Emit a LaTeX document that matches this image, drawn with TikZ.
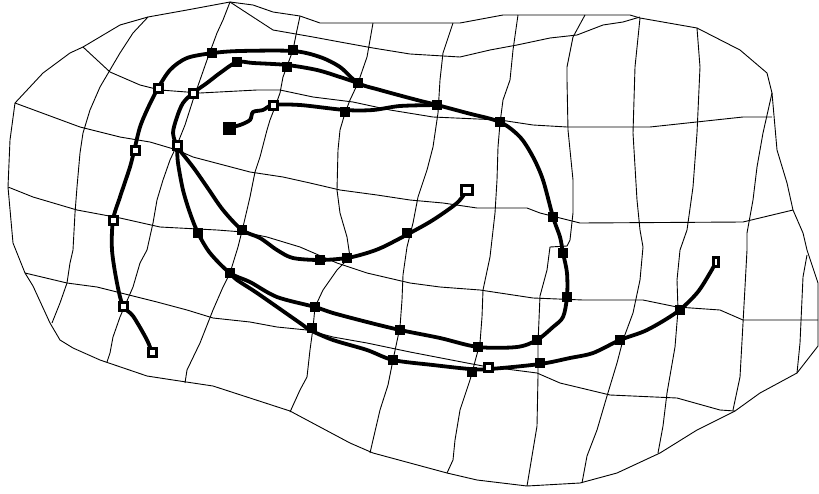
\documentclass[tikz,border=0pt]{standalone}
\usepackage{tikz}

\begin{document}
\begin{tikzpicture}[x=1pt,y=-1pt,
    gridline/.style={line width=0.9pt, line join=round},
    track/.style={line width=3.8pt, line join=round, line cap=round},
    fmark/.style={fill=black, inner sep=0pt, minimum size=10pt},
    omark/.style={draw=black, fill=white, line width=3pt, inner sep=0pt, minimum size=8pt}]
    \useasboundingbox (0,0) rectangle (819,493);
    % outline
    \draw[gridline] plot coordinates {(230,2) (253,5) (273,12) (300,16) (320,23) (373,23) (410,23) (460,23)
      (503,15) (585,15) (630,15) (640,18) (697,28) (740,50) (767,73) (772,93) (777,150) (787,183) (793,210)
      (803,233) (807,250) (818,283) (818,346) (797,373) (760,393) (735,411) (697,430) (660,453) (617,473)
      (580,483) (527,486) (477,480) (447,473) (410,463) (373,453) (350,443) (290,411) (213,386) (173,380)
      (147,376) (100,360) (73,348) (60,340) (50,323) (33,286) (25,273) (13,243) (8,187) (10,140) (15,103)
      (43,73) (70,53) (83,47) (120,25) (148,17) (187,10)} -- cycle;
    % grid, across
    \draw[gridline] plot coordinates {(230,2) (253,17) (273,30) (313,37) (340,42) (373,48) (410,54) (460,57)
      (490,50) (517,45) (550,38) (577,35) (603,25) (623,22) (640,17)};
    \draw[gridline] plot coordinates {(83,47) (110,72) (140,85) (160,90) (200,93) (257,90) (280,90) (313,97)
      (353,102) (390,110) (433,117) (500,120) (533,125) (567,127) (650,127) (743,117) (772,117)};
    \draw[gridline] plot coordinates {(15,103) (80,127) (120,137) (150,142) (177,150) (193,157) (250,172)
      (283,177) (310,183) (340,190) (377,195) (410,200) (443,203) (477,208) (527,208) (540,213) (580,223)
      (743,222) (793,210)};
    \draw[gridline] plot coordinates {(8,187) (33,197) (77,210) (120,218) (160,227) (217,230) (243,232)
      (267,237) (300,247) (337,263) (367,273) (410,283) (440,287) (480,290) (533,298) (583,300) (643,300)
      (677,307) (720,310) (743,320) (818,320)};
    \draw[gridline] plot coordinates {(25,273) (67,283) (97,287) (117,292) (157,302) (187,310) (213,318)
      (250,322) (277,327) (307,330) (333,337) (367,343) (410,352) (467,363) (483,366) (537,373) (560,383)
      (610,395) (677,398) (720,410) (735,411)};
    % grid, down
    \draw[gridline] plot coordinates {(148,17) (133,33) (120,53) (110,70) (100,87) (90,110) (83,133) (80,153)
      (77,187) (75,213) (73,250) (70,263) (67,283) (60,303) (52,323)};
    \draw[gridline] plot coordinates {(230,2) (223,20) (217,33) (207,60) (200,80) (193,100) (185,125)
      (177,145) (170,160) (163,180) (157,200) (153,223) (147,250) (140,263) (133,287) (120,317) (113,337)
      (110,353) (107,362)};
    \draw[gridline] plot coordinates {(300,16) (297,30) (293,50) (283,77) (280,93) (275,107) (270,120)
      (267,130) (260,157) (255,172) (250,197) (243,227) (238,247) (230,273) (223,287) (213,310) (200,343)
      (187,370) (185,383)};
    \draw[gridline] plot coordinates {(373,23) (367,57) (358,83) (350,100) (345,113) (340,130) (338,150)
      (337,190) (340,213) (347,237) (350,257) (337,270) (323,290) (315,307) (313,328) (310,350) (307,377)
      (300,390) (290,412)};
    \draw[gridline] plot coordinates {(453,23) (443,53) (440,80) (438,113) (433,147) (427,170) (418,197)
      (413,223) (407,247) (403,275) (402,300) (400,327) (393,360) (388,385) (380,410) (373,440) (370,453)};
    \draw[gridline] plot coordinates {(518,15) (513,50) (510,80) (503,100) (500,123) (498,147) (497,180)
      (495,213) (490,257) (483,290) (482,317) (480,343) (470,380) (460,410) (455,440) (453,460) (447,473)};
    \draw[gridline] plot coordinates {(585,15) (573,37) (567,67) (567,80) (568,130) (573,180) (573,213)
      (570,240) (567,246) (550,247) (547,270) (540,296) (538,343) (538,376) (537,426) (527,486)};
    \draw[gridline] plot coordinates {(640,18) (635,67) (633,133) (637,200) (640,230) (643,247) (640,280)
      (633,313) (623,340) (617,363) (607,396) (597,430) (587,456) (582,483)};
    \draw[gridline] plot coordinates {(697,28) (700,67) (697,133) (693,187) (687,230) (680,250) (677,280)
      (678,310) (675,347) (667,393) (663,426) (658,453)};
    \draw[gridline] plot coordinates {(772,93) (763,133) (757,167) (753,200) (747,233) (747,250) (745,287)
      (740,377) (733,410)};
    \draw[gridline] plot coordinates {(807,255) (803,277) (800,343) (797,373)};
    % tracks
    \draw[track] plot[smooth, tension=0.5] coordinates {(152,353) (147,340) (133,316) (123,306) (117,283)
      (112,250) (113,220) (120,197) (130,167) (135,147) (140,127) (147,110) (157,90) (170,70) (187,58)
      (213,53) (240,51) (293,51) (320,57) (340,67) (358,83) (380,90) (417,100) (437,105) (467,113)
      (500,122) (520,137) (533,157) (543,180) (553,217) (560,237) (563,253) (567,273) (567,297) (563,317)
      (553,327) (537,340) (517,347) (478,347) (440,338) (400,330) (367,322) (333,313) (315,307) (277,297)
      (250,282) (230,273) (210,253) (198,233) (190,213) (183,190) (178,163) (177,147)};
    \draw[track] plot[smooth, tension=0.5] coordinates {(177,147) (173,133) (177,117) (183,103) (193,93)
      (207,83) (220,73) (237,62) (253,63) (287,65) (317,70) (340,77) (358,83)};
    \draw[track] plot[smooth, tension=0.5] coordinates {(228,128) (240,125) (250,120) (253,112) (263,110)
      (273,105) (300,105) (345,110) (373,110) (400,106) (437,105)};
    \draw[track] plot[smooth, tension=0.5] coordinates {(177,147) (193,167) (207,187) (223,210) (242,230)
      (260,238) (277,250) (293,258) (320,260) (347,258) (367,253) (383,247) (410,233) (433,220) (457,203)
      (467,190)};
    \draw[track] plot[smooth, tension=0.5] coordinates {(230,273) (237,280) (257,293) (300,323) (310,330)
      (333,340) (367,350) (393,360) (433,365) (470,369) (490,369) (540,364) (570,358) (593,353) (620,340)
      (647,330) (677,312) (697,293) (710,273) (716,262)};
    % markers
    \foreach \p in {(212,53), (293,50), (237,62), (287,67), (358,83), (345,112), (437,105), (500,122),
      (553,217), (563,253), (567,297), (537,340), (478,347), (400,330), (315,307), (230,273), (198,233),
      (242,230), (320,260), (347,258), (407,233), (312,328), (393,360), (472,372), (540,363), (620,340),
      (680,310)}
      \node[fmark] at \p {};
    \node[fmark, minimum size=13pt] at (229,128) {};
    \foreach \p in {(152,352), (123,306), (113,220), (135,150), (158,88), (177,145), (193,93), (273,105),
      (488,367)}
      \node[omark] at \p {};
    \node[omark, minimum width=11pt, minimum height=9pt] at (467,190) {};
    \node[omark, minimum width=5pt, minimum height=9pt, line width=2.4pt] at (716,262) {};
\end{tikzpicture}
\end{document}
